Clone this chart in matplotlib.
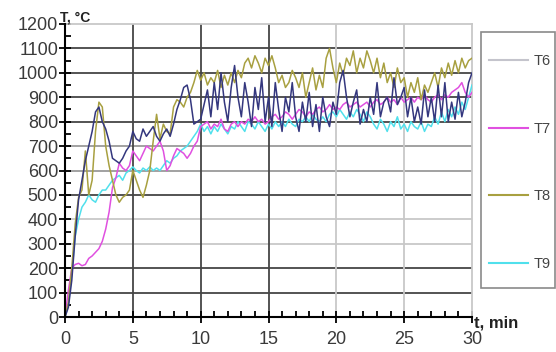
import numpy as np
import matplotlib.pyplot as plt
from matplotlib.lines import Line2D
from matplotlib.patches import Rectangle

plt.rcParams['font.family'] = ['Liberation Sans', 'DejaVu Sans']

# time, min (0.25 min step)
t = np.arange(0, 30.001, 0.25)

# temperatures, deg C
T6 = [0, 40, 150, 330,
      480, 560, 640, 700,
      760, 840, 860, 800,
      770, 720, 650, 640,
      630, 650, 680, 700,
      760, 730, 720, 770,
      740, 760, 780, 740,
      720, 750, 770, 740,
      790, 850, 890, 940,
      950, 890, 790, 800,
      810, 870, 930, 820,
      960, 850, 1000, 880,
      800, 940, 1030, 900,
      820, 960, 880, 780,
      940, 850, 980, 800,
      900, 780, 960, 850,
      760, 900, 840, 960,
      820, 760, 880, 800,
      920, 780, 870, 760,
      900, 820, 780, 880,
      830, 960, 1010, 900,
      820, 880, 930, 790,
      850, 800, 900, 830,
      960, 820, 880, 900,
      840, 980, 870, 900,
      940, 820, 900, 800,
      860, 790, 930, 820,
      900, 800, 950, 820,
      960, 800, 880, 810,
      920, 820, 880, 960,
      1000]

T7 = [0, 110, 200, 215,
      220, 210, 215, 240,
      250, 265, 280, 310,
      360, 430, 530, 570,
      630, 610, 600, 620,
      680, 660, 640, 670,
      700, 690, 680, 700,
      720, 680, 600, 620,
      660, 690, 680, 670,
      650, 670, 700, 720,
      780, 790, 800, 770,
      790, 780, 810, 770,
      760, 790, 800, 780,
      800, 790, 810, 800,
      820, 800, 810, 790,
      800, 820, 830, 810,
      820, 840, 830, 810,
      830, 850, 840, 820,
      840, 830, 850, 860,
      840, 850, 870, 850,
      860, 850, 870, 880,
      860, 870, 880, 860,
      870, 880, 860, 880,
      890, 870, 880, 900,
      880, 890, 870, 900,
      880, 890, 900, 880,
      900, 890, 910, 890,
      880, 900, 910, 890,
      910, 900, 920, 930,
      940, 960, 920, 900,
      920]

T8 = [0, 60, 200, 380,
      490, 520, 680, 500,
      560, 760, 880, 860,
      700, 620, 560, 500,
      470, 490, 500, 520,
      600, 560, 520, 490,
      540, 600, 720, 830,
      730, 790, 760, 750,
      860, 890, 880, 860,
      900, 920, 960, 1010,
      970, 1000, 950, 980,
      960, 1010, 940, 990,
      950, 1000, 960, 1010,
      980, 1040, 1060, 1020,
      1070, 1040, 1000, 1060,
      1030, 1070, 1020, 960,
      990, 940, 960, 1010,
      980, 940, 1000, 900,
      960, 1020, 930, 990,
      940, 1060, 1100, 1020,
      960, 1040, 990, 1060,
      1030, 1090, 1000, 1060,
      1020, 1090, 1050, 1000,
      1060, 980, 1040, 960,
      1000, 940, 1020, 960,
      980, 900, 960, 920,
      980, 890, 950, 920,
      960, 1000, 940, 1020,
      980, 1040, 990, 1050,
      1000, 1060, 1020, 1050,
      1060]

T9 = [0, 50, 180, 330,
      400, 450, 470, 500,
      480, 470, 500, 520,
      520, 540, 560, 570,
      580, 560, 590, 600,
      615, 600, 590, 610,
      600, 615, 600, 610,
      600, 620, 640, 630,
      650, 660, 680, 690,
      700, 720, 740, 760,
      790, 760, 780, 750,
      780, 760, 790, 770,
      750, 780, 770, 800,
      780, 760, 800, 790,
      770, 800, 780, 760,
      790, 770, 800, 780,
      800, 780, 810, 790,
      780, 810, 800, 820,
      800, 830, 810, 800,
      820, 800, 830, 840,
      820, 850, 830, 810,
      840, 820, 850, 830,
      800, 840, 820, 790,
      770, 810, 790, 760,
      800, 780, 820, 770,
      790, 760, 800, 780,
      770, 800, 760, 790,
      780, 820, 790, 840,
      800, 850, 820, 860,
      830, 880, 850, 900,
      950]

labels = ['T6', 'T7', 'T8', 'T9']
line_cols = ['#34377e', '#e050e0', '#a8a040', '#50e0ec']
legend_cols = ['#c4c4cc', '#e050e0', '#a8a040', '#50e0ec']

fig = plt.figure(figsize=(5.56, 3.52), dpi=100)
ax = fig.add_axes([65/556, 1-317/352, 407/556, 293/352])

# grid: some lines dark, some light as in the picture
dark = '#454545'
light = '#c8c8c8'
mid = '#9a9a9a'
hcol = {100: dark, 200: dark, 300: light, 400: light, 500: dark, 600: mid,
        700: mid, 800: dark, 900: dark, 1000: dark, 1100: dark}
for yv, c in hcol.items():
    ax.axhline(yv, color=c, lw=1.3, zorder=1)
vcol = {5: dark, 10: dark, 15: dark, 20: light, 25: light}
for xv, c in vcol.items():
    ax.axvline(xv, color=c, lw=1.3, zorder=1)

# T9 first so the darker traces sit on top
for k in [3, 1, 2, 0]:
    ax.plot(t, [T6, T7, T8, T9][k], color=line_cols[k], lw=1.1, zorder=3)

ax.set_xlim(0, 30)
ax.set_ylim(0, 1200)
ax.set_xticks(np.arange(0, 31, 5))
ax.set_xticks(np.arange(0, 31, 1), minor=True)
ax.set_yticks(np.arange(0, 1201, 100))
ax.set_yticks(np.arange(0, 1201, 50), minor=True)
ax.tick_params(axis='both', which='major', direction='inout', length=8, width=1.3,
               labelsize=13, labelcolor='#3a3a3a')
ax.tick_params(axis='x', which='major', pad=6)
ax.tick_params(axis='y', which='major', pad=1)
ax.tick_params(axis='both', which='minor', direction='in', length=4, width=1.3)

for s in ['left', 'bottom']:
    ax.spines[s].set_linewidth(1.5)
    ax.spines[s].set_zorder(4)
for s in ['top', 'right']:
    ax.spines[s].set_color('#c8c8c8')
    ax.spines[s].set_linewidth(1.3)

fig.text(60/556, 1-22/352, 'T, \u00b0C', fontsize=10, fontweight='bold',
         color='#222222', va='baseline', ha='left', zorder=10)
fig.text(474/556, 1-327/352, 't, min', fontsize=12, fontweight='bold',
         color='#222222', va='baseline', ha='left')

# legend box
fig.patches.append(Rectangle((481/556, 1-288/352), 74/556, 256/352,
                             transform=fig.transFigure, fill=False,
                             edgecolor='#8a8a8a', lw=1.2))
handles = [Line2D([], [], color=c, lw=1.5) for c in legend_cols]
fig.legend(handles, labels, loc='upper left',
           bbox_to_anchor=(489/556, 1-54/352), frameon=False,
           borderpad=0, borderaxespad=0, labelspacing=3.68, handlelength=2.7,
           handletextpad=0.35, fontsize=10.5, labelcolor='#444444')

fig.savefig('out.png', dpi=100)
